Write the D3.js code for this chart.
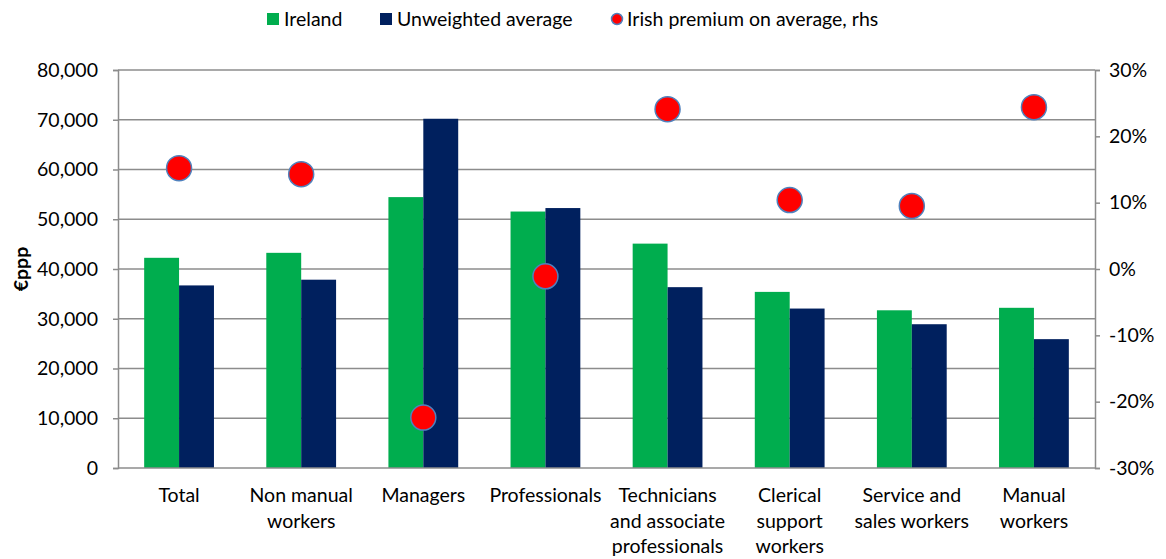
<!DOCTYPE html>
<html lang="en">
<head>
  <meta charset="UTF-8">
  <title>Irish earnings by occupation</title>
  <style>
    body { margin: 0; background: #fff; font-family: Lato, "Open Sans", sans-serif; }
    svg text { fill: #000; font-size: 19.5px; }
    .grid line { stroke: #8c8c8c; stroke-width: 1.5px; }
    .axis path, .axis line { stroke: #8c8c8c; stroke-width: 1.5px; }
  </style>
</head>
<body>
  <svg width="1166" height="559"></svg>
  <script src="https://d3js.org/d3.v7.min.js"></script>
  <script>
    // categories (line breaks as in the original chart)
    const categories = [
      ["Total"],
      ["Non manual", "workers"],
      ["Managers"],
      ["Professionals"],
      ["Technicians", "and associate", "professionals"],
      ["Clerical", "support", "workers"],
      ["Service and", "sales workers"],
      ["Manual", "workers"]
    ];
    const ireland = [42250, 43250, 54450, 51550, 45100, 35400, 31700, 32200];
    const unweighted = [36700, 37850, 70200, 52250, 36350, 32050, 28900, 25900];
    const premium = [0.152, 0.143, -0.224, -0.011, 0.241, 0.104, 0.095, 0.244];
    const leftTicks = [0, 10000, 20000, 30000, 40000, 50000, 60000, 70000, 80000];
    const rightTicks = [-0.3, -0.2, -0.1, 0, 0.1, 0.2, 0.3];

    const green = "#00ad4e", navy = "#00205e";
    const margin = { top: 70, right: 71, bottom: 91, left: 118 };
    const W = 1166, H = 559;
    const w = W - margin.left - margin.right;
    const h = H - margin.top - margin.bottom;

    const svg = d3.select("svg");
    const g = svg.append("g").attr("transform", `translate(${margin.left},${margin.top})`);

    const x = d3.scaleBand().domain(d3.range(categories.length)).range([0, w]);
    const bw = x.bandwidth() / 3.5;
    const y = d3.scaleLinear().domain([0, 80000]).range([h, 0]);
    const y2 = d3.scaleLinear().domain([-0.3, 0.3]).range([h, 0]);

    // gridlines
    g.append("g").attr("class", "grid")
      .selectAll("line").data(leftTicks.slice(1)).join("line")
      .attr("x1", 0).attr("x2", w)
      .attr("y1", d => y(d)).attr("y2", d => y(d));

    // bars
    const groups = g.selectAll(".cat").data(categories).join("g")
      .attr("transform", (d, i) => `translate(${x(i) + x.bandwidth() / 2},0)`);
    groups.append("rect")
      .attr("x", -bw).attr("width", bw)
      .attr("y", (d, i) => y(ireland[i]))
      .attr("height", (d, i) => h - y(ireland[i]))
      .attr("fill", green);
    groups.append("rect")
      .attr("x", 0).attr("width", bw)
      .attr("y", (d, i) => y(unweighted[i]))
      .attr("height", (d, i) => h - y(unweighted[i]))
      .attr("fill", navy);

    // axes
    const fmt = d3.format(",");
    const pct = d => d3.format(".0%")(d).replace("\u2212", "-");
    g.append("g").attr("class", "axis")
      .call(d3.axisLeft(y).tickValues(leftTicks).tickFormat(fmt).tickSize(5).tickSizeOuter(5).tickPadding(15));
    g.append("g").attr("class", "axis").attr("transform", `translate(${w},0)`)
      .call(d3.axisRight(y2).tickValues(rightTicks).tickFormat(pct).tickSize(5).tickSizeOuter(5).tickPadding(9));
    g.append("line").attr("x1", 0).attr("x2", w).attr("y1", h).attr("y2", h)
      .attr("stroke", "#8c8c8c").attr("stroke-width", 1.5);
    svg.selectAll(".axis text").style("font-size", "19.5px").style("font-family", "Lato, sans-serif");

    // premium dots
    g.selectAll(".dot").data(premium).join("circle")
      .attr("cx", (d, i) => x(i) + x.bandwidth() / 2)
      .attr("cy", d => y2(d))
      .attr("r", 12.5)
      .attr("fill", "#ff0000")
      .attr("stroke", "#4f81bd")
      .attr("stroke-width", 1.5);

    // category labels
    const lab = g.append("g").attr("text-anchor", "middle");
    categories.forEach((lines, i) => {
      const cx = x(i) + x.bandwidth() / 2;
      const t = lab.append("text").attr("x", cx).attr("y", h + 34);
      lines.forEach((s, j) => t.append("tspan").attr("x", cx).attr("dy", j ? 25.5 : 0).text(s));
    });

    // y axis title
    svg.append("text")
      .attr("transform", `translate(28,${margin.top + h / 2}) rotate(-90)`)
      .attr("text-anchor", "middle")
      .style("font-weight", "bold")
      .text("€ppp");

    // legend
    const leg = svg.append("g").attr("transform", "translate(0,19)");
    leg.append("rect").attr("x", 267).attr("y", -6).attr("width", 12).attr("height", 12).attr("fill", green);
    leg.append("text").attr("x", 284).attr("y", 7).text("Ireland");
    leg.append("rect").attr("x", 380).attr("y", -6).attr("width", 12).attr("height", 12).attr("fill", navy);
    leg.append("text").attr("x", 397).attr("y", 7).text("Unweighted average");
    leg.append("circle").attr("cx", 617).attr("cy", 0).attr("r", 5.5)
      .attr("fill", "#ff0000").attr("stroke", "#4f81bd").attr("stroke-width", 1.5);
    leg.append("text").attr("x", 627).attr("y", 7).text("Irish premium on average, rhs");
  </script>
</body>
</html>
